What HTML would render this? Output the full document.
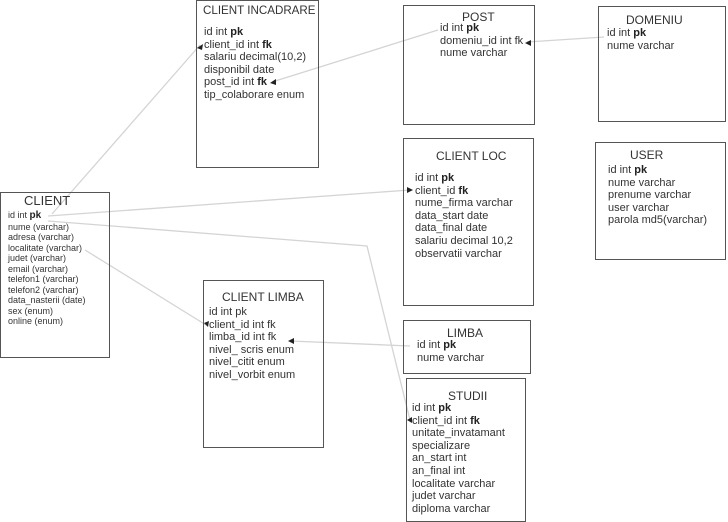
<!DOCTYPE html>
<html><head><meta charset="utf-8"><style>
body{margin:0;width:728px;height:522px;background:#fff;position:relative;overflow:hidden;font-family:"Liberation Sans",sans-serif;color:#333}
.b{position:absolute;border:1.5px solid #555;box-sizing:border-box;background:transparent}
.t{position:absolute;font-size:11px;line-height:12.6px;white-space:nowrap}
.h{position:absolute;font-size:12px;white-space:nowrap}
.s{font-size:9px;line-height:10.5px}
b{font-weight:bold;color:#222}
svg{position:absolute;left:0;top:0}
</style></head><body>
<svg width="728" height="522">
<g stroke="#d4d4d4" stroke-width="1.3" fill="none">
<polyline points="52,214 200,45"/>
<polyline points="48,216 410,190"/>
<polyline points="48,221 367,246 410,420"/>
<polyline points="85,250 206,325"/>
<polyline points="410,346 290,341"/>
<polyline points="438,30 272,82"/>
<polyline points="604,37 527,42"/>
</g>
<g fill="#222">
<polygon points="197,48 203,44 202,50"/>
<polygon points="413,190 407,187 407,193"/>
<polygon points="407,420 412,417 412,423"/>
<polygon points="204,323 209,321 208,327"/>
<polygon points="288,341 294,338 294,344"/>
<polygon points="270,83 276,79 276,85"/>
<polygon points="525,43 531,40 531,46"/>
</g>
</svg>

<div class="b" style="left:0;top:192px;width:110px;height:166px"></div>
<div class="h" style="left:24px;top:193px;font-size:13px">CLIENT</div>
<div class="t s" style="left:8px;top:210px">id int <b style="font-size:10px">pk</b><br>nume (varchar)<br>adresa (varchar)<br>localitate (varchar)<br>judet (varchar)<br>email (varchar)<br>telefon1 (varchar)<br>telefon2 (varchar)<br>data_nasterii (date)<br>sex (enum)<br>online (enum)</div>

<div class="b" style="left:196px;top:0;width:123px;height:168px"></div>
<div class="h" style="left:203px;top:4px;font-size:11.6px">CLIENT INCADRARE</div>
<div class="t" style="left:204px;top:26px">id int <b>pk</b><br>client_id int <b>fk</b><br>salariu decimal(10,2)<br>disponibil date<br>post_id int <b>fk</b><br>tip_colaborare enum</div>

<div class="b" style="left:403px;top:5px;width:132px;height:120px"></div>
<div class="h" style="left:462px;top:10px">POST</div>
<div class="t" style="left:440px;top:22px">id int <b>pk</b><br>domeniu_id int fk<br>nume varchar</div>

<div class="b" style="left:598px;top:6px;width:128px;height:116px"></div>
<div class="h" style="left:626px;top:13px">DOMENIU</div>
<div class="t" style="left:607px;top:27px">id int <b>pk</b><br>nume varchar</div>

<div class="b" style="left:403px;top:138px;width:131px;height:168px"></div>
<div class="h" style="left:436px;top:149px">CLIENT LOC</div>
<div class="t" style="left:415px;top:172px">id int <b>pk</b><br>client_id <b>fk</b><br>nume_firma varchar<br>data_start date<br>data_final date<br>salariu decimal 10,2<br>observatii varchar</div>

<div class="b" style="left:595px;top:142px;width:131px;height:118px"></div>
<div class="h" style="left:630px;top:148px">USER</div>
<div class="t" style="left:608px;top:164px">id int <b>pk</b><br>nume varchar<br>prenume varchar<br>user varchar<br>parola md5(varchar)</div>

<div class="b" style="left:203px;top:280px;width:121px;height:168px"></div>
<div class="h" style="left:222px;top:290px">CLIENT LIMBA</div>
<div class="t" style="left:209px;top:306px">id int pk<br>client_id int fk<br>limba_id int fk<br>nivel_ scris enum<br>nivel_citit enum<br>nivel_vorbit enum</div>

<div class="b" style="left:403px;top:320px;width:128px;height:54px"></div>
<div class="h" style="left:447px;top:326px">LIMBA</div>
<div class="t" style="left:417px;top:339px">id int <b>pk</b><br>nume varchar</div>

<div class="b" style="left:406px;top:378px;width:120px;height:144px"></div>
<div class="h" style="left:448px;top:389px">STUDII</div>
<div class="t" style="left:412px;top:402px">id int <b>pk</b><br>client_id int <b>fk</b><br>unitate_invatamant<br>specializare<br>an_start int<br>an_final int<br>localitate varchar<br>judet varchar<br>diploma varchar</div>
</body></html>
